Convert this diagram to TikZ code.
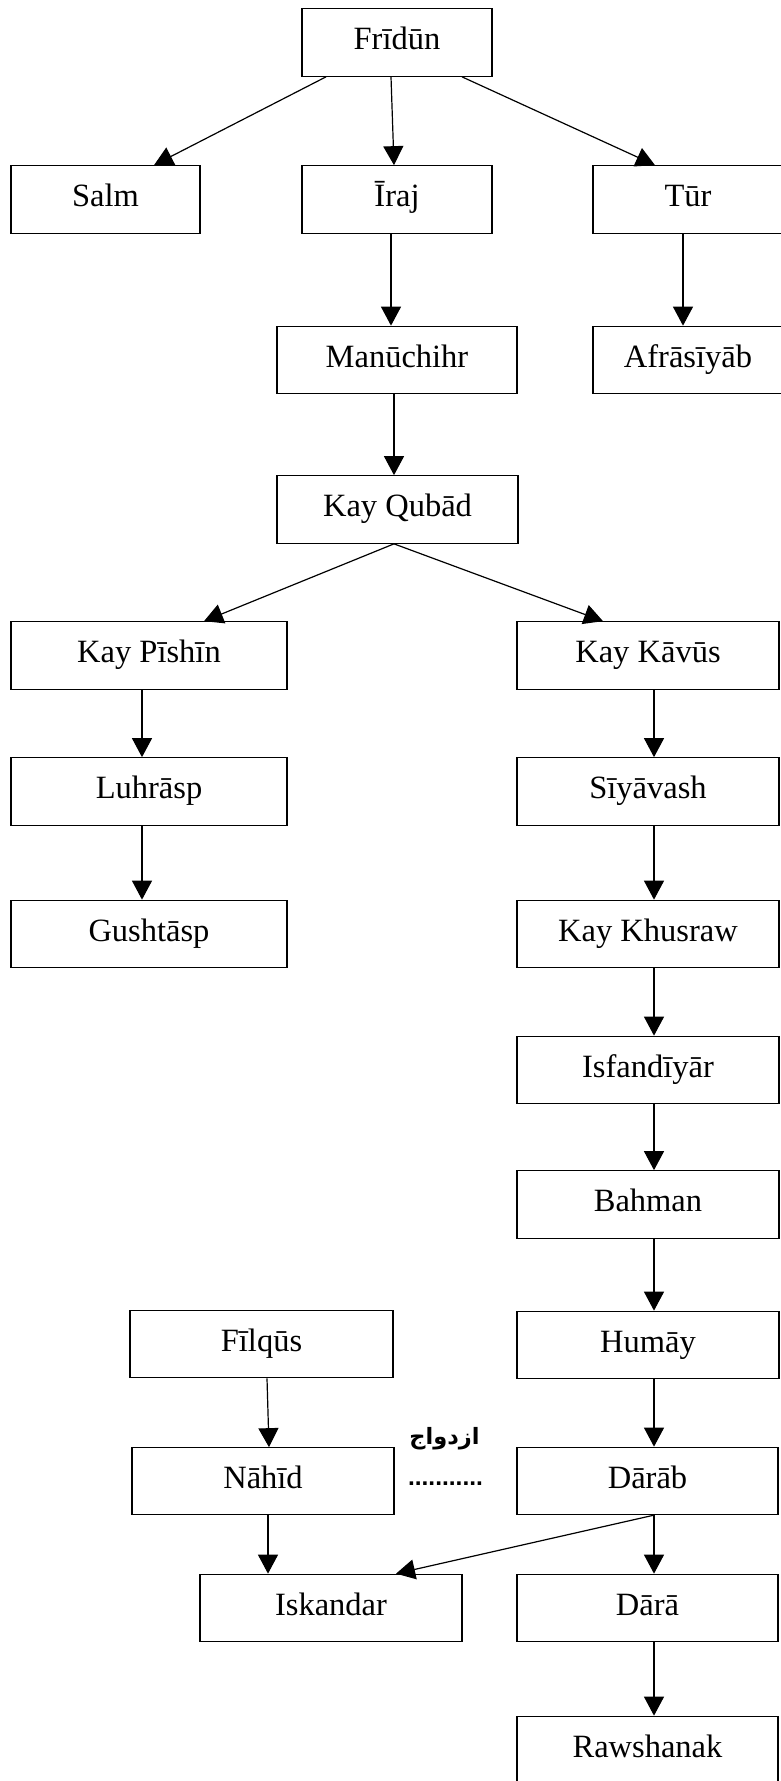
\documentclass[tikz,border=0pt]{standalone}
\usepackage{fontspec}
\setmainfont{Liberation Serif}
\newfontfamily\arabicfont[Script=Arabic]{DejaVu Sans}
\newfontfamily\dotfont{Liberation Sans}
\TeXXeTstate=1
\usetikzlibrary{arrows.meta}
\tikzset{
  box/.style={draw, line width=1.2pt, minimum height=67.5pt, inner sep=0pt,
    font=\fontsize{32.5pt}{36pt}\selectfont, text height=21pt, text depth=7pt},
  conn/.style={line width=1.2pt, -{Triangle[length=19pt,width=20pt]}},
}
\begin{document}
\begin{tikzpicture}[x=1pt,y=-1pt]
\clip (0,0) rectangle (781,1781);
\fill[white] (0,0) rectangle (781,1781);
% nodes
\node[box, minimum width=190pt] (fridun) at (397,42.5) {Frīdūn};
\node[box, minimum width=189pt] (salm) at (105.5,199.5) {Salm};
\node[box, minimum width=190pt] (iraj) at (397,199.5) {Īraj};
\node[box, minimum width=190pt] (tur) at (688,199.5) {Tūr};
\node[box, minimum width=240pt] (manuchihr) at (397,360) {Manūchihr};
\node[box, minimum width=190pt] (afrasiyab) at (688,360) {Afrāsīyāb};
\node[box, minimum width=241pt] (kayqubad) at (397.5,509.5) {Kay Qubād};
\node[box, minimum width=276pt] (kaypishin) at (149,655.5) {Kay Pīshīn};
\node[box, minimum width=262pt] (kaykavus) at (648,655.5) {Kay Kāvūs};
\node[box, minimum width=276pt] (luhrasp) at (149,791.5) {Luhrāsp};
\node[box, minimum width=262pt] (siyavash) at (648,791.5) {Sīyāvash};
\node[box, minimum width=276pt] (gushtasp) at (149,934) {Gushtāsp};
\node[box, minimum width=262pt] (kaykhusraw) at (648,934) {Kay Khusraw};
\node[box, minimum width=262pt] (isfandiyar) at (648,1070) {Isfandīyār};
\node[box, minimum width=262pt] (bahman) at (648,1204.5) {Bahman};
\node[box, minimum width=262pt] (humay) at (648,1345) {Humāy};
\node[box, minimum width=263pt] (filqus) at (261.5,1344) {Fīlqūs};
\node[box, minimum width=262pt, minimum height=66.5pt] (nahid) at (263,1481) {Nāhīd};
\node[box, minimum width=261pt] (darab) at (647.5,1481) {Dārāb};
\node[box, minimum width=262pt] (iskandar) at (331,1608) {Iskandar};
\node[box, minimum width=261pt] (dara) at (647.5,1608) {Dārā};
\node[box, minimum width=261pt] (rawshanak) at (647.5,1750) {Rawshanak};
% marriage label
\node (marr) at (444.5,1439) {\arabicfont\bfseries\fontsize{22.5pt}{26pt}\selectfont\beginR ازدواج\endR};
\node[anchor=base, inner sep=0pt] (dots) at (445.5,1485) {\dotfont\bfseries\fontsize{24.5pt}{26pt}\selectfont ...........};
% connectors
\draw[conn] ([xshift=-71pt]fridun.south) -- ([xshift=48.5pt]salm.north);
\draw[conn] ([xshift=-6pt]fridun.south) -- ([xshift=-3pt]iraj.north);
\draw[conn] ([xshift=65pt]fridun.south) -- ([xshift=-33pt]tur.north);
\draw[conn] ([xshift=-6pt]iraj.south) -- ([xshift=-6pt]manuchihr.north);
\draw[conn] ([xshift=-5pt]tur.south) -- ([xshift=-5pt]afrasiyab.north);
\draw[conn] ([xshift=-3pt]manuchihr.south) -- ([xshift=-3.5pt]kayqubad.north);
\draw[conn] ([xshift=-3.5pt]kayqubad.south) -- ([xshift=55pt]kaypishin.north);
\draw[conn] ([xshift=-3.5pt]kayqubad.south) -- ([xshift=-45pt]kaykavus.north);
\draw[conn] ([xshift=-7pt]kaypishin.south) -- ([xshift=-7pt]luhrasp.north);
\draw[conn] ([xshift=-7pt]luhrasp.south) -- ([xshift=-7pt]gushtasp.north);
\draw[conn] ([xshift=6pt]kaykavus.south) -- ([xshift=6pt]siyavash.north);
\draw[conn] ([xshift=6pt]siyavash.south) -- ([xshift=6pt]kaykhusraw.north);
\draw[conn] ([xshift=6pt]kaykhusraw.south) -- ([xshift=6pt]isfandiyar.north);
\draw[conn] ([xshift=6pt]isfandiyar.south) -- ([xshift=6pt]bahman.north);
\draw[conn] ([xshift=6pt]bahman.south) -- ([xshift=6pt]humay.north);
\draw[conn] ([xshift=6pt]humay.south) -- ([xshift=6.5pt]darab.north);
\draw[conn] ([xshift=5.5pt]filqus.south) -- ([xshift=6pt]nahid.north);
\draw[conn] ([xshift=5pt]nahid.south) -- ([xshift=-63pt]iskandar.north);
\draw[conn] ([xshift=5.5pt]darab.south) -- ([xshift=65pt]iskandar.north);
\draw[conn] ([xshift=6.5pt]darab.south) -- ([xshift=6.5pt]dara.north);
\draw[conn] ([xshift=6.5pt]dara.south) -- ([xshift=6.5pt]rawshanak.north);
\end{tikzpicture}
\end{document}
